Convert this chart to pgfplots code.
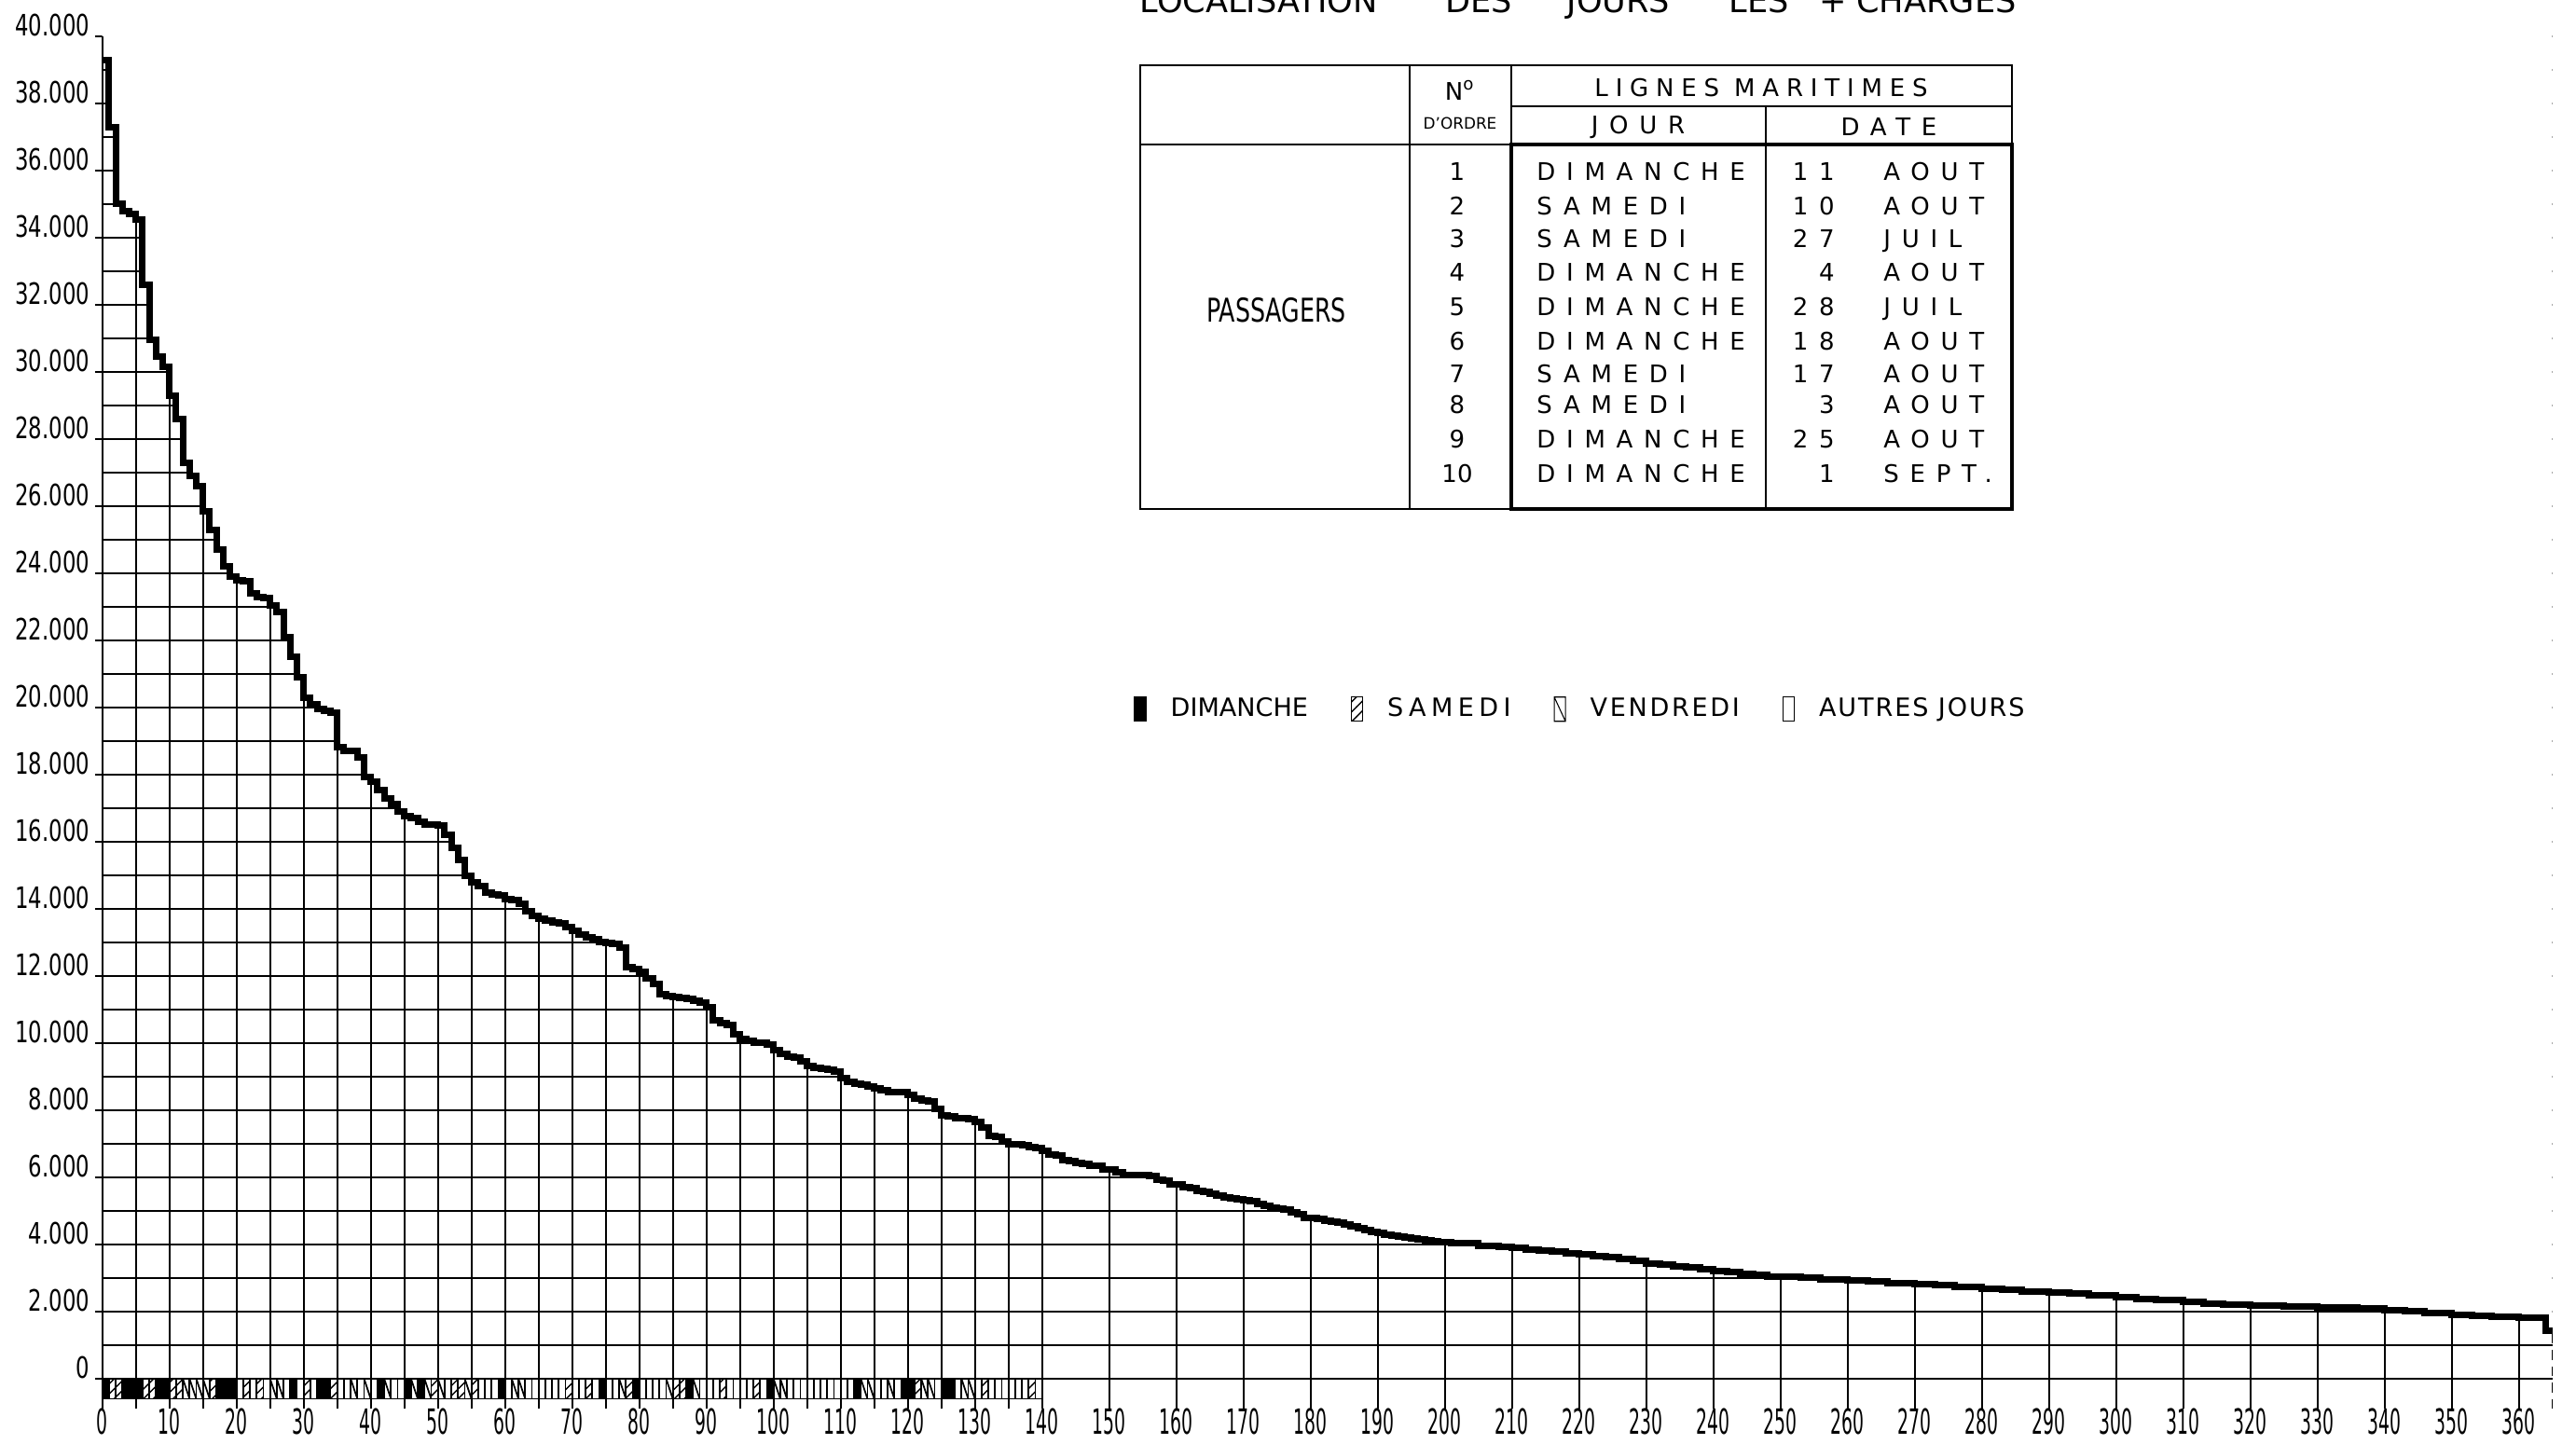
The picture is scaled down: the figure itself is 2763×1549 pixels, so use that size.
\documentclass[border=0pt]{standalone}
\usepackage{pgfplots}
\pgfplotsset{compat=1.18}
\usepackage{pgfplotstable}
\usepgfplotslibrary{fillbetween}
\usetikzlibrary{patterns}
\usepackage{fontspec}
\setmainfont{DejaVu Sans}
\newfontfamily\cond{DejaVu Sans Condensed}
\newfontfamily\spaced[LetterSpace=45]{DejaVu Sans}
\newfontfamily\spacedhead[LetterSpace=30]{DejaVu Sans}
\newfontfamily\legsp[LetterSpace=20]{DejaVu Sans}
\newfontfamily\legsm[LetterSpace=10]{DejaVu Sans}
\newfontfamily\legst[LetterSpace=7]{DejaVu Sans}

% passagers par jour, jours classes par ordre decroissant (debut de palier)
\pgfplotstableread{
jour pax
0 39300
1 37300
2 35000
3 34800
4 34700
5 34550
6 32600
7 30950
8 30450
9 30150
10 29300
11 28600
12 27300
13 26900
14 26600
15 25850
16 25300
17 24700
18 24200
19 23900
20 23800
21 23750
22 23400
23 23300
24 23250
25 23050
26 22850
27 22100
28 21500
29 20900
30 20300
31 20100
32 19950
33 19900
34 19850
35 18830
36 18700
37 18700
38 18500
39 17930
40 17800
41 17540
42 17280
43 17120
44 16890
45 16750
46 16700
47 16610
48 16520
49 16500
50 16480
51 16220
52 15820
53 15450
54 14990
55 14800
56 14670
57 14480
58 14420
59 14390
60 14300
61 14260
62 14160
63 13930
64 13790
65 13700
66 13650
67 13600
68 13560
69 13460
70 13350
71 13230
72 13150
73 13090
74 13000
75 12980
76 12950
77 12860
78 12260
79 12200
80 12120
81 11940
82 11750
83 11450
84 11400
85 11370
86 11350
87 11320
88 11250
89 11220
90 11060
91 10690
92 10600
93 10550
94 10270
95 10130
96 10060
97 10010
98 10000
99 9950
100 9780
101 9690
102 9600
103 9580
104 9460
105 9320
106 9250
107 9230
108 9220
109 9140
110 8950
111 8840
112 8780
113 8770
114 8700
115 8650
116 8600
117 8550
118 8540
119 8530
120 8450
121 8360
122 8280
123 8270
124 8040
125 7850
126 7830
127 7760
128 7760
129 7740
130 7650
131 7490
132 7230
133 7200
134 7070
135 6990
136 6980
137 6970
138 6890
139 6880
140 6800
141 6680
142 6650
143 6520
144 6480
145 6420
146 6400
147 6360
148 6350
149 6240
150 6230
151 6150
152 6080
153 6070
154 6070
155 6060
156 6050
157 5930
158 5900
159 5800
160 5780
161 5720
162 5680
163 5600
164 5560
165 5500
166 5470
167 5410
168 5380
169 5340
170 5320
171 5300
172 5200
173 5150
174 5100
175 5070
176 5040
177 4950
178 4900
179 4800
180 4780
181 4750
182 4720
183 4680
184 4640
185 4590
186 4530
187 4480
188 4430
189 4370
190 4340
191 4300
192 4260
193 4230
194 4200
195 4170
196 4150
197 4120
198 4090
199 4070
200 4060
201 4050
202 4040
203 4030
204 4030
205 3970
206 3960
207 3950
208 3940
209 3920
210 3900
212 3860
214 3820
216 3790
218 3740
220 3700
222 3660
224 3620
226 3580
228 3520
230 3440
232 3400
234 3360
236 3320
238 3260
240 3210
242 3170
244 3130
246 3090
248 3050
250 3030
253 3000
256 2960
260 2920
263 2890
266 2860
270 2820
273 2780
276 2740
280 2690
283 2650
286 2610
290 2570
293 2530
296 2480
300 2430
303 2380
306 2340
310 2290
313 2240
316 2200
320 2170
325 2150
330 2120
336 2090
340 2040
343 2000
346 1960
350 1910
353 1880
356 1860
360 1830
362 1810
364 1420
365 1420
}\courbe

\tikzset{px/.style={shift={(-10.97mm,147.9mm)},x=0.1mm,y=-0.1mm}}
\pgfplotsset{cell/.style={ybar, bar width=1, bar shift=0pt, draw=black, line width=0.5pt, forget plot}}

\begin{document}
\begin{tikzpicture}
\begin{axis}[
  at={(0,0)}, anchor=origin,
  scale only axis, width=262.8mm, height=147.24mm,
  xmin=0, xmax=365, ymin=-900, ymax=40000,
  enlargelimits=false, clip=false,
  axis y line*=left, axis x line*=bottom,
  x axis line style={draw=none},
  y axis line style={line width=0.5pt},
  xtick={0,10,...,360}, minor xtick={5,15,...,135},
  ytick={0,2000,...,40000}, minor ytick={1000,3000,...,39000},
  grid=both,
  major grid style={black, line width=0.5pt},
  minor grid style={black, line width=0.5pt},
  xtick style={draw=none},
  ytick style={black, line width=0.5pt},
  tick align=outside, major tick length=0.8mm, minor tick length=0pt,
  scaled y ticks=false,
  /pgf/number format/1000 sep={.},
  /pgf/number format/assume math mode=true,
  xticklabel style={font=\cond\fontsize{10.6}{12}\selectfont, anchor=north, inner sep=0pt, yshift=0.9mm},
  xticklabel={\scalebox{0.56}[1]{\pgfmathprintnumber{\tick}}},
  yticklabel style={font=\cond\fontsize{9}{10}\selectfont, anchor=base east, inner sep=0pt, xshift=-0.5mm},
  yticklabel={\scalebox{0.8}[1]{\pgfmathprintnumber{\tick}}},
  legend style={at={(axis cs:153.6,19950)}, anchor=west, draw=none, fill=none,
    legend columns=4, inner sep=0pt, font=\fontsize{7.7}{9}\selectfont,
    nodes={inner sep=0.6mm},
    /tikz/every odd column/.append style={column sep=2.0mm},
    /tikz/every even column/.append style={column sep=4.0mm}},
  legend cell align=left,
]

% partie blanche au-dessus de la courbe
\addplot[const plot, draw=none, name path=courbe, forget plot] table[x=jour, y=pax] {\courbe};
\path[name path=haut] (axis cs:0,40400) -- (axis cs:365,40400);
\addplot[white, forget plot] fill between[of=courbe and haut];

% bande des jours de la semaine (dimanche, samedi, vendredi, autres)
\addplot[cell, fill=white] coordinates {
  (20.5,-600) (22.5,-600) (24.5,-600) (27.5,-600) (29.5,-600) (31.5,-600)
  (35.5,-600) (36.5,-600) (38.5,-600) (40.5,-600)
  (43.5,-600) (44.5,-600) (51.5,-600) (56.5,-600) (57.5,-600) (58.5,-600) (60.5,-600)
  (63.5,-600) (64.5,-600) (65.5,-600) (66.5,-600) (67.5,-600) (68.5,-600) (70.5,-600)
  (71.5,-600) (73.5,-600) (75.5,-600) (76.5,-600) (80.5,-600) (81.5,-600) (82.5,-600)
  (83.5,-600) (89.5,-600) (90.5,-600) (91.5,-600) (93.5,-600) (94.5,-600) (95.5,-600)
  (96.5,-600) (98.5,-600) (102.5,-600) (103.5,-600) (104.5,-600) (105.5,-600) (106.5,-600)
  (107.5,-600) (108.5,-600) (109.5,-600) (110.5,-600) (111.5,-600) (115.5,-600) (116.5,-600)
  (118.5,-600) (124.5,-600) (127.5,-600) (130.5,-600) (132.5,-600) (133.5,-600) (134.5,-600)
  (135.5,-600) (136.5,-600) (137.5,-600) (139.5,-600)};
\addplot[cell, fill=black] coordinates {
  (0.5,-600) (3.5,-600) (4.5,-600) (5.5,-600) (8.5,-600) (9.5,-600)
  (17.5,-600) (18.5,-600) (19.5,-600) (28.5,-600) (32.5,-600)
  (33.5,-600) (41.5,-600) (45.5,-600) (47.5,-600) (59.5,-600) (74.5,-600) (79.5,-600)
  (87.5,-600) (99.5,-600) (112.5,-600) (119.5,-600) (120.5,-600) (125.5,-600) (126.5,-600)};
\addplot[cell, pattern=north east lines] coordinates {
  (1.5,-600) (2.5,-600) (6.5,-600) (7.5,-600) (10.5,-600) (11.5,-600) (16.5,-600)
  (21.5,-600) (23.5,-600) (30.5,-600) (34.5,-600) (49.5,-600) (52.5,-600) (53.5,-600)
  (55.5,-600) (69.5,-600) (72.5,-600) (78.5,-600) (85.5,-600) (86.5,-600) (92.5,-600)
  (97.5,-600) (121.5,-600) (131.5,-600) (138.5,-600)};
\addplot[cell, fill=white] coordinates {
  (12.5,-600) (13.5,-600) (14.5,-600) (15.5,-600) (25.5,-600) (26.5,-600) (37.5,-600)
  (39.5,-600) (42.5,-600) (46.5,-600) (48.5,-600) (50.5,-600) (54.5,-600) (61.5,-600)
  (62.5,-600) (77.5,-600) (84.5,-600) (88.5,-600) (100.5,-600) (101.5,-600) (113.5,-600)
  (114.5,-600) (117.5,-600) (122.5,-600) (123.5,-600) (128.5,-600) (129.5,-600)};
\addplot[quiver={u=1, v=-600}, -, black, line width=0.5pt, forget plot] coordinates {
  (12,0) (13,0) (14,0) (15,0) (25,0) (26,0) (37,0) (39,0) (42,0) (46,0) (48,0) (50,0)
  (54,0) (61,0) (62,0) (77,0) (84,0) (88,0) (100,0) (101,0) (113,0) (114,0) (117,0)
  (122,0) (123,0) (128,0) (129,0)};

% courbe
\addplot[const plot, black, line width=2pt, forget plot] table[x=jour, y=pax] {\courbe};
\draw[line width=0.5pt] (axis cs:0,-900) -- (axis cs:0,40000);
\draw[line width=0.4pt, densely dashed] (axis cs:365,-900) -- (axis cs:365,1420);

% legende
\addlegendimage{legend image code/.code={\fill[black] (0mm,-1.3mm) rectangle (1.2mm,1.3mm);}}
\addlegendentry{DIMANCHE}
\addlegendimage{legend image code/.code={\draw[pattern=north east lines, line width=0.3pt] (0mm,-1.3mm) rectangle (1.2mm,1.3mm);}}
\addlegendentry{{\legsp SAMEDI}\hspace{1.8mm}}
\addlegendimage{legend image code/.code={\draw[line width=0.3pt] (0mm,-1.3mm) rectangle (1.2mm,1.3mm) (0mm,1.3mm) -- (1.2mm,-1.3mm);}}
\addlegendentry{{\legsm VENDREDI}}
\addlegendimage{legend image code/.code={\draw[line width=0.3pt] (0mm,-1.3mm) rectangle (1.2mm,1.3mm);}}
\addlegendentry{{\legst AUTRES JOURS}}
\end{axis}

% titre et tableau
\begin{scope}[px]
  \begin{scope}[font=\fontsize{10}{12}\selectfont]
    \node[anchor=base] at (1350,14) {LOCALISATION};
    \node[anchor=base] at (1586,14) {DES};
    \node[anchor=base] at (1736,14) {JOURS};
    \node[anchor=base] at (1887,14) {LES};
    \node[anchor=base] at (1966,14) {+};
    \node[anchor=base] at (2077,14) {CHARGES};
  \end{scope}
  \draw[line width=0.45pt] (1223,70) rectangle (2158,546);
  \draw[line width=0.45pt] (1512,70) -- (1512,546);
  \draw[line width=0.45pt] (1621,70) -- (1621,155);
  \draw[line width=0.45pt] (1621,114) -- (2158,114);
  \draw[line width=0.45pt] (1223,155) -- (1621,155);
  \draw[line width=0.45pt] (1894,114) -- (1894,546);
  \draw[line width=1.3pt] (1621,155) rectangle (2158,546);
  \node[font=\fontsize{7.4}{9}\selectfont] at (1566,97) {N\textsuperscript{o}};
  \node[font=\fontsize{4.8}{6}\selectfont] at (1566,132) {D'ORDRE};
  \node[font=\spacedhead\fontsize{7.4}{9}\selectfont] at (1889,94) {LIGNES MARITIMES};
  \node[font=\spaced\fontsize{7.4}{9}\selectfont] at (1757,136) {JOUR};
  \node[font=\spaced\fontsize{7.4}{9}\selectfont] at (2026,136) {DATE};
  \node[font=\cond\fontsize{10}{12}\selectfont] at (1369,333) {\scalebox{0.8}[1]{PASSAGERS}};
  \foreach \y/\n/\j/\d/\m in {194/1/DIMANCHE/11/AOUT, 231/2/SAMEDI/10/AOUT, 266/3/SAMEDI/27/JUIL,
      302/4/DIMANCHE/4/AOUT, 339/5/DIMANCHE/28/JUIL, 376/6/DIMANCHE/18/AOUT,
      411/7/SAMEDI/17/AOUT, 444/8/SAMEDI/3/AOUT, 481/9/DIMANCHE/25/AOUT, 518/10/DIMANCHE/1/SEPT.}{
    \node[anchor=base, font=\fontsize{7.4}{9}\selectfont] at (1563,\y) {\n};
    \node[anchor=base west, font=\spaced\fontsize{7.4}{9}\selectfont] at (1636,\y) {\j};
    \node[anchor=base east, font=\spaced\fontsize{7.4}{9}\selectfont] at (1980,\y) {\d};
    \node[anchor=base west, font=\spaced\fontsize{7.4}{9}\selectfont] at (2008,\y) {\m};
  }
  % cadre de la page, comme la planche d'origine
  \pgfresetboundingbox
  \useasboundingbox (0,0) rectangle (2763,1549);
\end{scope}
\end{tikzpicture}
\end{document}
